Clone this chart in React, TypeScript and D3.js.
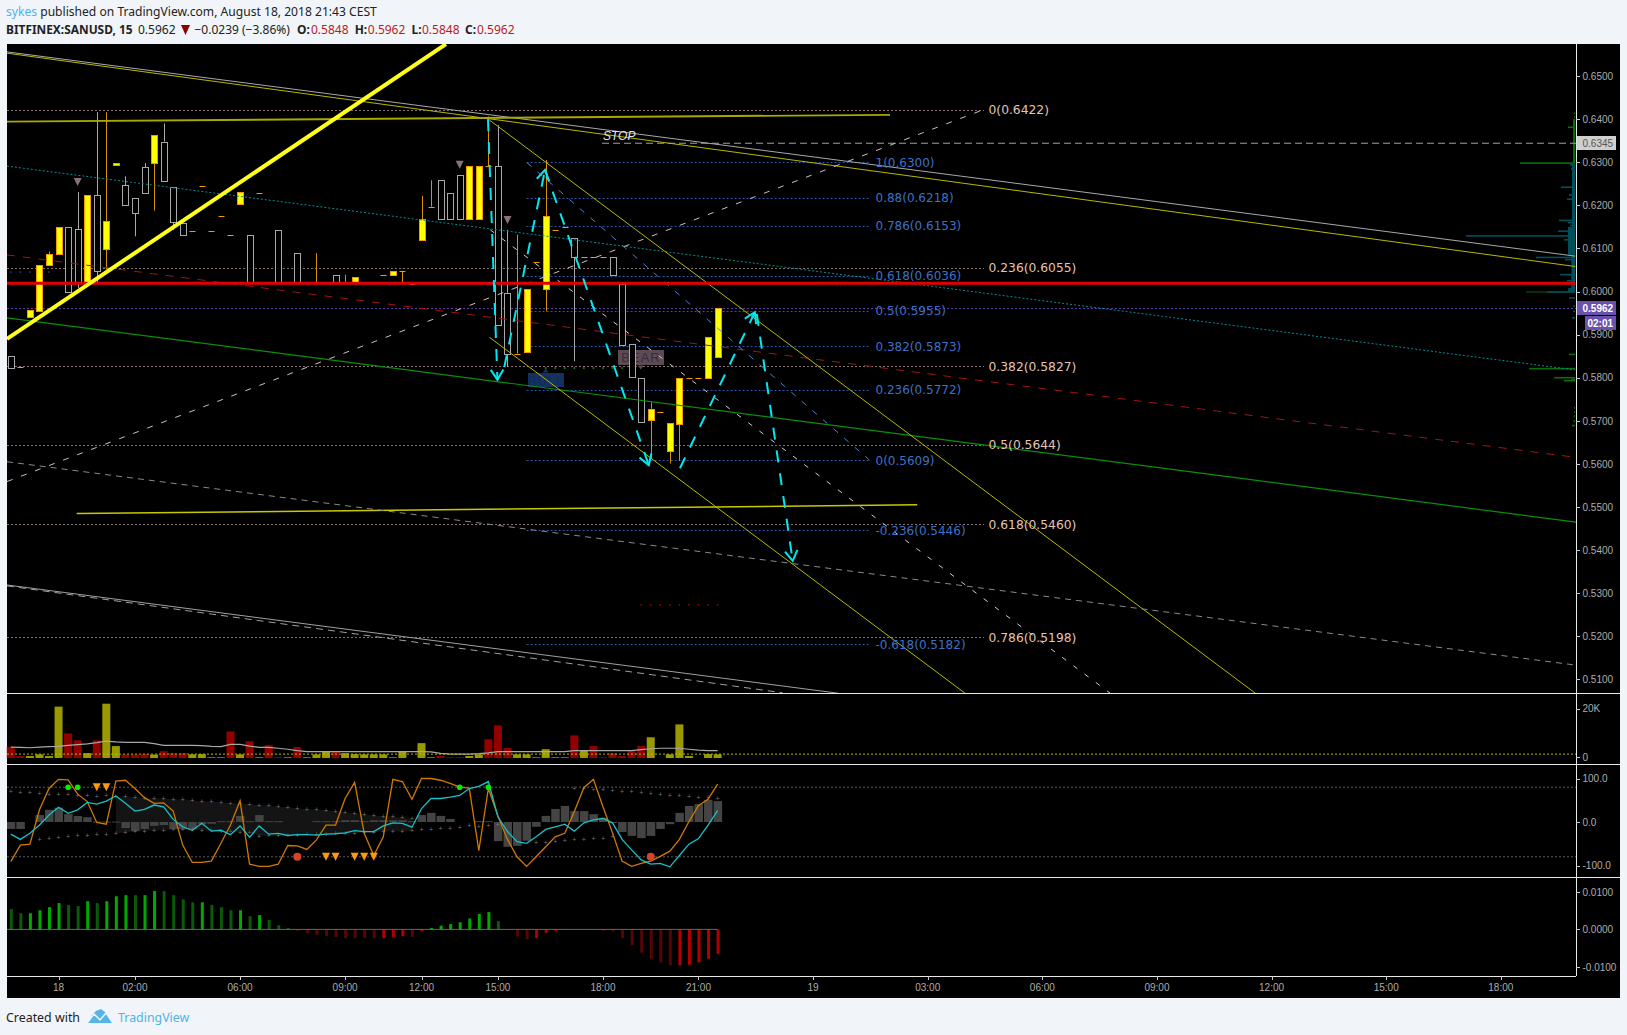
import React from "react";
import * as d3 from "d3";

const opens = [.5850,.5825,.5939,.5955,.6061,.6087,.6149,.6145,.6020,.6223,.6099,.6293,.6246,.6216,.6288,.6298,.6348,.6242,.6160,.6141,.6244,.6140,.6175,.6131,.6205,.6130,.6228,.6021,.6142,.6020,.6089,.6020,.6020,.6020,.6038,.6020,.6020,.6020,.6020,.6038,.6038,.6048,.6017,.6119,.6197,.6258,.6228,.6270,.6167,.6167,.6291,.6291,.5997,.5856,.5859,.6068,.6006,.6142,.6149,.6124,.6080,.6081,.6080,.6080,.6017,.5878,.5800,.5702,.5721,.5630,.5693,.5800,.5800,.5799,.5848];
const closes = [.5823,.5823,.5956,.6061,.6086,.6149,.5999,.6020,.6225,.6047,.6163,.6298,.6200,.6182,.6228,.6362,.6258,.6161,.6133,.6141,.6244,.6140,.6175,.6129,.6232,.6020,.6228,.6020,.6020,.6020,.6020,.6020,.6020,.6020,.6020,.6020,.6034,.6020,.6020,.6038,.6048,.6048,.6017,.6168,.6197,.6167,.6167,.6167,.6291,.6291,.6291,.5923,.5856,.5856,.6006,.6068,.6175,.6142,.6149,.6080,.6080,.6080,.6080,.6038,.5875,.5802,.5699,.5728,.5721,.5696,.5800,.5800,.5800,.5895,.5962];
const highWicks = new Map<number, number>([[4,.6093],[7,.6231],[9,.6416],[10,.6416],[12,.6267],[14,.6298],[16,.6390],[32,.6089],[35,.6039],[43,.6222],[44,.6258],[50,.6406],[51,.6386],[52,.6143],[53,.6132],[56,.6305],[67,.5743]]);
const lowWicks = new Map<number, number>([[7,.6008],[9,.6020],[10,.6051],[13,.6128],[15,.6188],[17,.6143],[41,.6020],[52,.5825],[56,.5954],[59,.5838],[67,.5614],[69,.5601],[70,.5607]]);

const priceTicks = [.65,.64,.63,.62,.61,.60,.59,.58,.57,.56,.55,.54,.53,.52,.51];
const timeTickBars = [5,13,24,35,43,51,62,72,84,96,108,120,132,144,156];
const timeTickLabels = ["18","02:00","06:00","09:00","12:00","15:00","18:00","21:00","19","03:00","06:00","09:00","12:00","15:00","18:00"];

const fibBlueLevels = ["1","0.88","0.786","0.618","0.5","0.382","0.236","0","-0.236","-0.618"];
const fibBluePrices = [.6300,.6218,.6153,.6036,.5955,.5873,.5772,.5609,.5446,.5182];
const fibPinkLevels = ["0","0.236","0.382","0.5","0.618","0.786"];
const fibPinkPrices = [.6422,.6055,.5827,.5644,.5460,.5198];

// [bar1, price1, bar2, price2]
const trendThick = [-0.4,.5890,45.56,.6574];
const trendGray = [-0.4,.6556,163.8,.6082];
const trendOlive = [-0.4,.6553,163.8,.6058];
const trendFlatTop = [-0.4,.6394,92.05,.6410];
const trendTeal = [-0.4,.6291,163.8,.5818];
const trendDarkRed = [-0.4,.6085,163.9,.5615];
const trendGreen = [-0.4,.5939,163.9,.5465];
const trendRising = [-0.4,.5559,101.5,.6419];
const channelMid = [50.2,.6143,115.1,.5068];
const channelTop = [50.1,.6398,130.3,.5068];
const channelBottom = [50.1,.5894,99.9,.5068];
const fibTrend = [54.04,.6299,89.9,.5609];
const trendFlatLow = [6.9,.5485,94.9,.5505];
const trendLowerDash = [-0.4,.5605,163.9,.5133];
const trendBottomSolid = [-0.4,.5319,86.6,.5068];
const trendBottomDash = [-0.4,.5317,80.8,.5069];
const stopLine = [61.9,.6344,163.9,.6344];

const cyanArrows = [
  [49.96,.6400,50.95,.5795],
  [51.67,.5825,55.93,.6282],
  [55.93,.6282,66.8,.5597],
  [70.06,.5590,77.9,.5952],
  [78.1,.5948,81.86,.5375],
];

const signalBars = [7,47,52];
const signalPrices = [.6254,.6294,.6166];
const bullDotBars = [56,57,58,59,60,61,62,63,64];
const redDotBars = [66,67,68,69,70,71,72,73,74];
const blueDotBars = [0,1,2,3,4];

const volumes = [4.6,.8,.8,1.5,.8,21.1,10.1,7.3,2.0,7.3,22.3,4.9,1.4,1.4,1.6,1.4,2.8,2.0,2.0,1.5,1.6,.3,.3,10.9,1.5,6.9,.3,5.3,.4,.3,4.5,.3,1.5,2.7,2.7,2.0,1.6,1.5,1.5,1.5,.3,2.7,0,6.1,.3,.8,.3,.3,.8,1.5,7.7,13.4,4.1,1.5,1.5,.3,3.6,.3,.3,9.3,3.0,4.9,.3,2.0,.8,2.8,4.9,8.5,0,1.5,13.8,.8,0,1.6,1.5];
const volumeRedBars = [0,1,6,7,9,12,13,14,16,17,18,23,25,27,28,30,34,45,46,47,50,51,52,59,61,62,63,64,65,66];
const volumeMA = [4.5,4.4,4.2,4.5,4.7,4.8,5.2,5.5,5.8,6.3,6.9,6.6,6.4,6.4,6.4,5.9,5.2,5.2,5.2,5.2,5.1,4.8,4.7,5.6,5.6,4.9,4.4,4.4,4.0,3.6,3.0,2.6,2.6,2.6,2.6,2.6,2.6,2.6,2.6,2.6,2.6,2.6,2.6,2.6,2.5,1.9,1.6,1.6,1.6,1.8,2.1,2.6,2.6,2.6,2.6,2.6,2.6,2.6,2.6,3.0,3.0,3.0,3.0,3.0,3.0,3.0,3.4,3.8,4.0,4.0,4.0,3.6,3.2,3.0,3.0];
const volumeThreshold = 1.6;

const stochK = [-91,-53,-51,28,77,98,97,64,47,-1,-5,94,96,77,56,43,44,25,-53,-93,-93,-90,-49,-7,49,-97,-102,-102,-97,-54,-55,-63,-41,-7,-7,54,91,-26,-77,-34,98,93,52,100,100,96,89,80,78,-66,77,14,-40,-80,-102,-80,-57,-34,-26,24,79,98,35,-25,-90,-102,-95,-90,-79,-67,-40,1,38,52,87];
const waveLine = [-28,-40,-26,-7,16,34,20,28,45,41,48,60,43,25,29,39,35,6,-11,-19,-3,-21,-19,-29,-9,-35,-9,-28,-26,-31,-29,-29,-30,-28,-27,-25,-20,-22,-22,-9,-2,-3,-12,31,54,54,57,61,77,82,93,12,-22,-45,-49,-34,-17,-11,-5,-21,-2,5,8,-2,-40,-64,-87,-97,-95,-103,-77,-51,-38,-7,26];
const oscHist = [-16,-16,0,16,28,33,18,14,11,1,1,1,-14,-21,-16,-9,-7,-16,-16,-16,-5,-4,2,2,14,2,16,2,2,0,0,0,2,2,2,4,4,2,4,4,4,4,2,16,21,14,7,0,0,2,2,-44,-57,-55,-43,-11,14,30,37,25,25,18,10,-2,-23,-32,-37,-32,-16,-5,21,37,41,51,48];
const bandUpperA = [70,68,68,66,63,64,64,62,60,59,60,58,59,57,55,54,54,52,52,50,47,47,44,43,43,41,38,38,35,34,31,29,29,27,25,22,20,18,15,13,12,10,8];
const bandUpperBStart = 59;
const bandUpperB = [77,76,75,75,73,71,70,67,66,64,62,61,59,57,56,54];
const bandLowerAStart = 3;
const bandLowerA = [-40,-38,-35,-33,-32,-31,-28,-28,-26,-24,-21,-21,-19,-19,-17,-17,-18,-19,-20,-21,-22,-23,-23,-33,-31,-31,-31,-30,-29,-29,-29,-26,-26,-26,-24,-24,-21,-21,-21,-20,-18,-17,-15,-15,-12,-9,-10,-7,-6];
const bandLowerBStart = 55;
const bandLowerB = [-47,-47,-44,-42,-41,-40,-38,-37,-34];
const shadeStart = 11;
const shadeEnd = 42;
const greenDotBars = [6,7,47,50];
const orangeTriBars = [9,10,33,34,36,37,38];
const redCircleBars = [30,67];

const macd = [.0054,.0043,.0043,.0051,.0059,.0070,.0065,.0062,.0075,.0070,.0075,.0088,.0091,.0091,.0091,.0102,.0102,.0091,.0080,.0072,.0072,.0065,.0059,.0051,.0051,.0035,.0038,.0025,.0011,.0004,-.0004,-.0010,-.0015,-.0018,-.0020,-.0023,-.0023,-.0023,-.0023,-.0023,-.0020,-.0018,-.0020,-.0005,.0004,.0010,.0014,.0019,.0029,.0041,.0046,.0022,0,-.0019,-.0026,-.0023,-.0009,-.0004,.0001,0,0,0,-.0004,-.0005,-.0023,-.0042,-.0062,-.0078,-.0088,-.0096,-.0096,-.0094,-.0088,-.0078,-.0065];
const macdBrightBars = [2,3,4,5,8,10,11,12,14,15,20,24,26,39,40,41,43,44,45,46,47,48,49,50,55,56,57,58,70,71,72,73,74];

const profileGreen = [[.6414,1],[.6405,1],[.6398,1.5],[.6381,7],[.6370,1.5],[.6298,55],[.5854,6],[.5821,46],[.5800,21],[.5796,4],[.5793,11],[.5730,1],[.5720,1],[.5711,1.5],[.5700,1.5],[.5689,3]];
const profileDarkGreen = [[.5999,49]];
const profileTeal = [[.6294,5],[.6285,4],[.6242,14],[.6224,6],[.6214,8],[.6165,16],[.6160,7],[.6153,5],[.6140,17],[.6129,109],[.6125,5],[.6120,11],[.6079,39],[.6074,10],[.6068,4],[.6039,15],[.6032,4],[.6025,8],[.6012,4],[.6006,7],[.6002,7],[.5999,28],[.5985,6],[.5966,1.5],[.5954,2],[.5939,3]];
// [top price, bottom price, width]
const profileColumns = [[.6400,.6298,2,0],[.6294,.6150,3,1],[.6150,.6085,7,1],[.6085,.6000,3.5,1]];

const LEFT = 7, AXIS = 1576, RIGHT = 1620, TOP = 44, BOTTOM = 998;
const MAIN_B = 693, VOL_B = 764, OSC_B = 877, MACD_B = 976;

const x = d3.scaleLinear().domain([0, 74]).range([10.8, 717.6]);
const y = d3.scaleLinear().domain([.65, .51]).range([76, 679.4]);
const yVol = d3.scaleLinear().domain([0, 20]).range([758, 709.3]);
const yOsc = d3.scaleLinear().domain([100, -100]).range([778.5, 865.5]);
const yMacd = d3.scaleLinear().domain([.01, -.01]).range([891.8, 967]);
const wProfile = d3.scaleLinear().domain([0, 110]).range([0, 110]);
const snap = (v: number) => Math.round(v) + 0.5;

const AXIS_FONT = "'Liberation Sans', Arial, sans-serif";
const LABEL_FONT = "'DejaVu Sans', Verdana, sans-serif";
const HEAD_FONT = "'Noto Sans', Tahoma, sans-serif";

function Seg({ d, color, width = 1, dash }: { d: number[]; color: string; width?: number; dash?: string }) {
  return <line x1={x(d[0])} y1={y(d[1])} x2={x(d[2])} y2={y(d[3])} stroke={color} strokeWidth={width} strokeDasharray={dash} />;
}

function Candle({ i }: { i: number }) {
  const o = opens[i], c = closes[i];
  const up = c >= o;
  const cx = snap(x(i));
  const top = y(Math.max(o, c)), bot = y(Math.min(o, c));
  const wick = up ? "#d89400" : "#a8a8a8";
  const hi = highWicks.get(i), lo = lowWicks.get(i);
  const flat = bot - top < 1;
  return (
    <g>
      {hi !== undefined && <line x1={cx} x2={cx} y1={y(hi)} y2={top} stroke={wick} />}
      {lo !== undefined && <line x1={cx} x2={cx} y1={bot} y2={y(lo)} stroke={wick} />}
      {flat ? (
        <line x1={cx - 3} x2={cx + 3} y1={snap(top)} y2={snap(top)} stroke={up ? "#f59a00" : "#a8a8a8"} />
      ) : (
        <rect x={cx - 3} width={6} y={snap(top)} height={Math.round(bot - top)} fill={up ? "#ffff00" : "#000"} stroke={up ? "#f59a00" : "#a8a8a8"} />
      )}
    </g>
  );
}

function Arrow({ d }: { d: number[] }) {
  const x1 = x(d[0]), y1 = y(d[1]), x2 = x(d[2]), y2 = y(d[3]);
  const a = Math.atan2(y2 - y1, x2 - x1);
  const L = 12, s = 0.55;
  const hd = `M${x2 - L * Math.cos(a - s)},${y2 - L * Math.sin(a - s)}L${x2},${y2}L${x2 - L * Math.cos(a + s)},${y2 - L * Math.sin(a + s)}`;
  return (
    <g stroke="#00e8f2" fill="none" strokeWidth={2}>
      <line x1={x1} y1={y1} x2={x2} y2={y2} strokeDasharray="12 11" />
      <path d={hd} />
    </g>
  );
}

const bars = d3.range(opens.length);

export default function App() {
  const kLine = d3.line<number>().x((_, i) => x(i)).y((v) => yOsc(v));
  const maLine = d3.line<number>().x((_, i) => x(i)).y((v) => yVol(v));
  const shadeBars = d3.range(shadeStart, shadeEnd + 1);
  const shade = d3.area<number>().x((i) => x(i)).y0((i) => yOsc(bandLowerA[i - bandLowerAStart])).y1((i) => yOsc(bandUpperA[i]));
  const bright = new Set(macdBrightBars);
  const volRed = new Set(volumeRedBars);
  const osc0 = yOsc(0), macd0 = yMacd(0), vol0 = yVol(0);
  const tri = (cx: number, cy: number, w: number, h: number) => `M${cx - w / 2},${cy - h / 2}L${cx + w / 2},${cy - h / 2}L${cx},${cy + h / 2}Z`;
  const priceRows = (rows: number[][], color: string) =>
    rows.map((r, k) => <rect key={k} x={AXIS - 1 - wProfile(r[1])} y={y(r[0]) - 0.8} width={wProfile(r[1])} height={1.6} fill={color} />);

  return (
    <div style={{ position: "absolute", left: 0, top: 0 }}>
      <style>{"html,body{margin:0;padding:0;background:#f1f5f9}"}</style>
      <svg width={1627} height={1035} style={{ display: "block" }}>
        <defs>
          <clipPath id="mainClip"><rect x={LEFT} y={TOP} width={AXIS - LEFT} height={MAIN_B - TOP} /></clipPath>
          <clipPath id="oscClip"><rect x={LEFT} y={VOL_B} width={AXIS - LEFT} height={OSC_B - VOL_B} /></clipPath>
        </defs>
        <rect width={1627} height={1035} fill="#f1f5f9" />
        <text x={6} y={16} fontFamily={HEAD_FONT} fontSize={12.1} fill="#222">
          <tspan fill="#4db4e6">sykes</tspan> published on TradingView.com, August 18, 2018 21:43 CEST
        </text>
        <text y={34} fontFamily={HEAD_FONT} fontSize={12} fill="#222">
          <tspan x={6} fontWeight={700} fontSize={11.9}>BITFINEX:SANUSD, 15</tspan>
          <tspan x={138}>0.5962</tspan>
          <tspan x={194.5}>−0.0239 (−3.86%)</tspan>
          <tspan x={297} fontWeight={700}>O:</tspan><tspan x={311} fill="#b71c1c">0.5848</tspan>
          <tspan x={354.7} fontWeight={700}>H:</tspan><tspan x={367.8} fill="#b71c1c">0.5962</tspan>
          <tspan x={411.5} fontWeight={700}>L:</tspan><tspan x={422} fill="#b71c1c">0.5848</tspan>
          <tspan x={465} fontWeight={700}>C:</tspan><tspan x={477} fill="#b71c1c">0.5962</tspan>
        </text>
        <path d="M181,25L190,25L185.5,35Z" fill="#8b0000" />

        <rect x={LEFT} y={TOP} width={RIGHT - LEFT} height={BOTTOM - TOP} fill="#000" />

        <g clipPath="url(#mainClip)">
          {profileColumns.map((c, k) => (
            <rect key={k} x={AXIS - 1 - wProfile(c[2])} y={y(c[0])} width={wProfile(c[2])} height={y(c[1]) - y(c[0])} fill={c[3] ? "#00505c" : "#0a6e0a"} />
          ))}
          {priceRows(profileDarkGreen, "#0a3a0a")}
          {priceRows(profileTeal, "#00505c")}
          {priceRows(profileGreen, "#0a6e0a")}

          {fibPinkPrices.map((p, k) => (
            <line key={k} x1={LEFT} x2={984} y1={snap(y(p))} y2={snap(y(p))} stroke="#84706e" strokeDasharray="2 2" />
          ))}
          {fibBluePrices.map((p, k) => (
            <line key={k} x1={x(54)} x2={x(89.95)} y1={snap(y(p))} y2={snap(y(p))} stroke="#2b55a6" strokeDasharray="2 2" />
          ))}
          <line x1={LEFT} x2={AXIS} y1={snap(y(.5962))} y2={snap(y(.5962))} stroke="#5a3ea8" strokeDasharray="2 2" />
          <Seg d={stopLine} color="#a0a0a0" dash="7 4" />

          <rect x={528} y={373} width={36} height={14} fill="#16315f" />
          <text x={546} y={384.5} textAnchor="middle" fontFamily={AXIS_FONT} fontSize={13} letterSpacing={1} fill="#0f2a5c">BULL</text>
          <path d={tri(545.7, 370.5, 6, -4)} fill="#16315f" />
          <rect x={618} y={350} width={46} height={15} fill="#5c4a55" />
          <text x={641} y={362} textAnchor="middle" fontFamily={AXIS_FONT} fontSize={13} letterSpacing={1} fill="#3a2e36">BEAR</text>
          <path d={tri(640.7, 367.5, 6, 4)} fill="#5c4a55" />
          {bullDotBars.map((i) => <circle key={i} cx={x(i)} cy={y(.5827) + 2} r={1} fill="#0a8a0a" />)}
          {redDotBars.map((i) => <circle key={i} cx={x(i)} cy={y(.5273)} r={0.8} fill="#a01010" />)}
          {blueDotBars.map((i) => <circle key={i} cx={x(i)} cy={y(.6045)} r={0.8} fill="#2b55a6" />)}

          {bars.map((i) => <Candle key={i} i={i} />)}
          {signalBars.map((b, k) => <path key={k} d={tri(x(b), y(signalPrices[k]), 8, 8)} fill="#8a7078" />)}

          <Seg d={trendGray} color="#a8a8a8" />
          <Seg d={trendOlive} color="#b8b800" />
          <Seg d={trendFlatTop} color="#a8a800" width={1.8} />
          <Seg d={trendTeal} color="#009090" dash="2 2" />
          <Seg d={trendDarkRed} color="#a01515" dash="8 8" />
          <Seg d={trendGreen} color="#0b8f0b" width={1.2} />
          <Seg d={trendRising} color="#d6bebe" dash="6 9" />
          <Seg d={channelMid} color="#d0d0d0" dash="5 9" />
          <Seg d={channelTop} color="#b8b800" />
          <Seg d={channelBottom} color="#b8b800" />
          <Seg d={fibTrend} color="#4a80d8" dash="6 8" />
          <Seg d={trendFlatLow} color="#c8c800" width={1.5} />
          <Seg d={trendLowerDash} color="#8a8a8a" dash="6 5" />
          <Seg d={trendBottomSolid} color="#a0a0a0" />
          <Seg d={trendBottomDash} color="#a0a0a0" dash="7 5" />

          <line x1={LEFT} x2={AXIS - 1} y1={y(.6019)} y2={y(.6019)} stroke="#e00000" strokeWidth={3} />
          <Seg d={trendThick} color="#ffff1a" width={4} />
          {cyanArrows.map((d, k) => <Arrow key={k} d={d} />)}

          <text x={603} y={140} fontFamily={AXIS_FONT} fontSize={12} fontStyle="italic" fill="#e6e6e6">STOP</text>
          {fibBlueLevels.map((l, k) => (
            <text key={k} x={875.5} y={y(fibBluePrices[k]) + 4.5} fontFamily={LABEL_FONT} fontSize={12} fill="#3d71c8">{l}({fibBluePrices[k].toFixed(4)})</text>
          ))}
          {fibPinkLevels.map((l, k) => (
            <text key={k} x={988.5} y={y(fibPinkPrices[k]) + 4.5} fontFamily={LABEL_FONT} fontSize={12.3} fill="#e6c4b8">{l}({fibPinkPrices[k].toFixed(4)})</text>
          ))}
        </g>

        {/* Volume */}
        {bars.map((i) => volumes[i] > 0 && (
          <rect key={i} x={x(i) - 4} width={8} y={yVol(volumes[i])} height={vol0 - yVol(volumes[i])} fill={volRed.has(i) ? "#920000" : "#9a9a00"} />
        ))}
        <path d={maLine(volumeMA) || ""} fill="none" stroke="#a8a8a8" strokeWidth={1.2} />
        <line x1={LEFT} x2={AXIS} y1={yVol(volumeThreshold)} y2={yVol(volumeThreshold)} stroke="#b8b800" strokeDasharray="2 2" />

        {/* Oscillator */}
        <g clipPath="url(#oscClip)">
          <path d={shade(shadeBars) || ""} fill="#141414" />
          <line x1={LEFT} x2={AXIS} y1={yOsc(80)} y2={yOsc(80)} stroke="#5a5a5a" strokeDasharray="2 2" />
          <line x1={LEFT} x2={AXIS} y1={yOsc(-80)} y2={yOsc(-80)} stroke="#5a5a5a" strokeDasharray="2 2" />
          {bars.map((i) => oscHist[i] !== 0 && (
            <rect key={i} x={x(i) - 4} width={8.5}
              y={Math.min(osc0, yOsc(oscHist[i]))}
              height={Math.max(1, Math.abs(yOsc(oscHist[i]) - osc0))} fill="#444" />
          ))}
          {bandUpperA.map((v, k) => <text key={k} x={x(k)} y={yOsc(v) + 2.5} textAnchor="middle" fontSize={7} fontFamily={AXIS_FONT} fill="#777">+</text>)}
          {bandUpperB.map((v, k) => <text key={k} x={x(k + bandUpperBStart)} y={yOsc(v) + 2.5} textAnchor="middle" fontSize={7} fontFamily={AXIS_FONT} fill="#777">+</text>)}
          {bandLowerA.map((v, k) => <text key={k} x={x(k + bandLowerAStart)} y={yOsc(v) + 2.5} textAnchor="middle" fontSize={7} fontFamily={AXIS_FONT} fill="#777">+</text>)}
          {bandLowerB.map((v, k) => <text key={k} x={x(k + bandLowerBStart)} y={yOsc(v) + 2.5} textAnchor="middle" fontSize={7} fontFamily={AXIS_FONT} fill="#777">+</text>)}
          <path d={kLine(stochK) || ""} fill="none" stroke="#d07a00" strokeWidth={1.3} />
          <path d={kLine(waveLine) || ""} fill="none" stroke="#18c0c8" strokeWidth={1.3} />
          {greenDotBars.map((i) => <circle key={i} cx={x(i)} cy={yOsc(80)} r={2.8} fill="#00f000" />)}
          {orangeTriBars.map((i) => <path key={i} d={tri(x(i), i < 20 ? yOsc(80) : yOsc(-80), 8, 8)} fill="#ff9a10" />)}
          {redCircleBars.map((i) => <circle key={i} cx={x(i)} cy={yOsc(-80)} r={4} fill="#d2452a" />)}
        </g>

        {/* MACD */}
        {bars.map((i) => {
          const v = macd[i];
          if (v === 0) return null;
          const b = bright.has(i);
          const fill = v > 0 ? (b ? "#00aa00" : "#0a5a0a") : (b ? "#b00000" : "#560404");
          return <rect key={i} x={x(i) - 1} width={3} y={Math.min(macd0, yMacd(v))} height={Math.abs(yMacd(v) - macd0)} fill={fill} />;
        })}
        <line x1={LEFT} x2={x(74)} y1={macd0} y2={macd0} stroke="#666" />

        {/* Frames */}
        {[MAIN_B, VOL_B, OSC_B].map((v) => <line key={v} x1={LEFT} x2={RIGHT} y1={v + .5} y2={v + .5} stroke="#e8e8e8" />)}
        <line x1={LEFT} x2={AXIS} y1={MACD_B + .5} y2={MACD_B + .5} stroke="#e8e8e8" />
        <line x1={AXIS + .5} x2={AXIS + .5} y1={TOP} y2={MACD_B} stroke="#e8e8e8" />

        {/* Right axes */}
        <g fontFamily={AXIS_FONT} fontSize={10} fill="#adadad">
          {priceTicks.map((p) => (
            <g key={p}>
              <line x1={AXIS} x2={AXIS + 4} y1={snap(y(p))} y2={snap(y(p))} stroke="#ccc" />
              <text x={AXIS + 6.5} y={y(p) + 3.7}>{p.toFixed(4)}</text>
            </g>
          ))}
          {[[20, "20K"], [0, "0"]].map(([v, l]) => (
            <g key={String(l)}>
              <line x1={AXIS} x2={AXIS + 4} y1={snap(yVol(v as number) - (v === 0 ? .7 : 0))} y2={snap(yVol(v as number) - (v === 0 ? .7 : 0))} stroke="#ccc" />
              <text x={AXIS + 6.5} y={yVol(v as number) + 3} fontSize={10}>{l}</text>
            </g>
          ))}
          {[[100, "100.0"], [0, "0.0"], [-100, "-100.0"]].map(([v, l]) => (
            <g key={String(l)}>
              <line x1={AXIS} x2={AXIS + 4} y1={snap(yOsc(v as number))} y2={snap(yOsc(v as number))} stroke="#ccc" />
              <text x={AXIS + 6.5} y={yOsc(v as number) + 3.7}>{l}</text>
            </g>
          ))}
          {[[.01, "0.0100"], [0, "0.0000"], [-.01, "-0.0100"]].map(([v, l]) => (
            <g key={String(l)}>
              <line x1={AXIS} x2={AXIS + 4} y1={snap(yMacd(v as number))} y2={snap(yMacd(v as number))} stroke="#ccc" />
              <text x={AXIS + 6.5} y={yMacd(v as number) + 3.7}>{l}</text>
            </g>
          ))}
        </g>

        <rect x={1577} y={136} width={39} height={14} fill="#cfcfcf" />
        <text x={1582.5} y={146.7} fontFamily={AXIS_FONT} fontSize={10} fill="#555">0.6345</text>
        <rect x={1577} y={301} width={39} height={14} fill="#6a52ac" />
        <text x={1582.5} y={311.7} fontFamily={AXIS_FONT} fontSize={10} fontWeight={700} fill="#fff">0.5962</text>
        <rect x={1585} y={316} width={31} height={14} fill="#6a52ac" />
        <text x={1587.5} y={326.7} fontFamily={AXIS_FONT} fontSize={10} fontWeight={700} fill="#fff">02:01</text>

        {/* Time axis */}
        <g fontFamily={AXIS_FONT} fontSize={10} fill="#adadad" textAnchor="middle">
          {timeTickBars.map((b, k) => (
            <g key={k}>
              <line x1={snap(x(b))} x2={snap(x(b))} y1={MACD_B} y2={MACD_B + 4} stroke="#ccc" />
              <text x={x(b)} y={991}>{timeTickLabels[k]}</text>
            </g>
          ))}
        </g>

        {/* Footer */}
        <text x={6} y={1022} fontFamily={HEAD_FONT} fontSize={12.4} fill="#222">Created with</text>
        <path d="M88,1023L92,1015L96,1011L101,1009L106,1013L108,1017L112,1023Z" fill="#55b6e6" />
        <path d="M88,1022L94,1014L100,1020L106,1013L112,1021" fill="none" stroke="#f1f5f9" strokeWidth={1.5} />
        <text x={118} y={1022} fontFamily={HEAD_FONT} fontSize={12.4} fill="#4db4e6">TradingView</text>
      </svg>
    </div>
  );
}
